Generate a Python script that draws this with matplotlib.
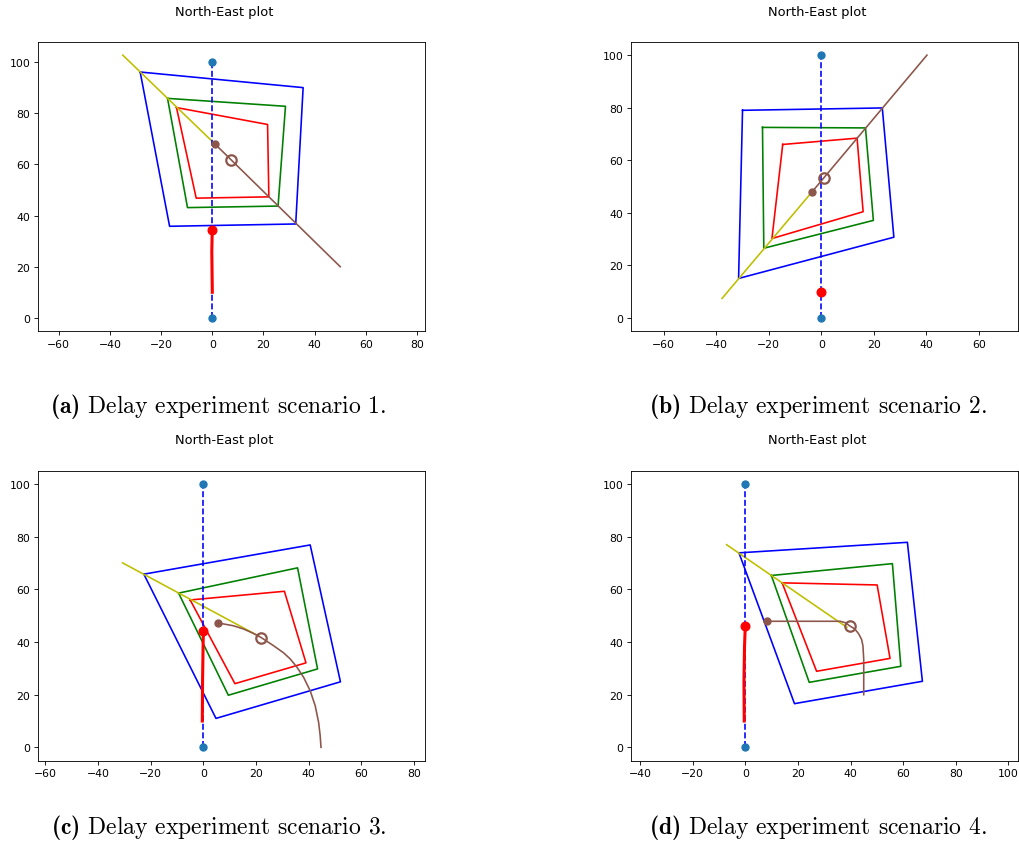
import numpy as np
import matplotlib
matplotlib.use("Agg")
import matplotlib.pyplot as plt

plt.rcParams["mathtext.fontset"] = "custom"
plt.rcParams["mathtext.rm"] = "cmr10"
plt.rcParams["mathtext.bf"] = "cmb10"

# =========================
# DATA (East = x, North = y)
# =========================
beacon_e = [0, 0]
beacon_n = [0, 100]

# scenario 1
s1_outer_e = [-28.2, 35.5, 32.6, -16.7]
s1_outer_n = [96.1, 90.0, 36.7, 35.8]
s1_mid_e = [-17.5, 28.6, 25.7, -9.7]
s1_mid_n = [85.8, 82.7, 43.7, 43.1]
s1_inner_e = [-14.0, 21.6, 22.1, -6.3]
s1_inner_n = [82.2, 75.6, 47.3, 46.8]
s1_los_e = [-35.0, 1.2]
s1_los_n = [102.7, 67.8]
s1_path_e = [1.2, 50.0]
s1_path_n = [67.8, 20.0]
s1_target = (7.3, 61.6)
s1_track_e = [0.0, -0.1, -0.2, -0.1, 0.0]
s1_track_n = [10.0, 18.0, 26.0, 31.0, 34.4]

# scenario 2
s2_outer_e = [-30.0, 23.2, 27.6, -31.5]
s2_outer_n = [79.0, 79.9, 30.7, 15.0]
s2_mid_e = [-22.4, 16.8, 19.8, -21.9]
s2_mid_n = [72.5, 72.3, 37.1, 26.5]
s2_inner_e = [-14.7, 13.6, 15.9, -18.8]
s2_inner_n = [66.0, 68.4, 40.4, 30.2]
s2_los_e = [-37.8, -3.5]
s2_los_n = [7.4, 48.0]
s2_path_e = [-3.5, 40.2]
s2_path_n = [48.0, 100.0]
s2_target = (0.9, 53.4)
s2_track_e = [0.0, 0.0]
s2_track_n = [10.0, 10.0]

# scenario 3
s3_outer_e = [-22.6, 40.6, 52.1, 4.8]
s3_outer_n = [65.8, 76.9, 24.9, 11.0]
s3_mid_e = [-9.4, 35.8, 43.4, 9.5]
s3_mid_n = [58.6, 68.2, 29.8, 19.8]
s3_inner_e = [-5.0, 30.8, 39.0, 12.0]
s3_inner_n = [56.0, 59.3, 32.1, 24.2]
s3_los_e = [-30.7, 21.0]
s3_los_n = [70.1, 42.3]
s3_path_e = [5.5, 7.6, 11.4, 15.2, 19.0, 22.0, 26.7, 30.5, 33.0, 35.6,
             38.1, 40.6, 42.5, 43.8, 44.4, 44.7]
s3_path_n = [47.1, 46.9, 46.2, 45.0, 43.3, 41.7, 38.6, 35.9, 33.6, 30.4,
             26.6, 21.5, 15.8, 9.5, 4.4, 0.0]
s3_target = (22.0, 41.7)
s3_track_e = [-0.4, -0.3, -0.1, 0.0]
s3_track_n = [10.0, 25.0, 38.0, 44.1]

# scenario 4
s4_outer_e = [-2.4, 61.6, 67.3, 18.7]
s4_outer_n = [73.9, 77.9, 25.1, 16.6]
s4_mid_e = [9.9, 55.9, 59.1, 24.3]
s4_mid_n = [65.3, 69.8, 30.8, 24.7]
s4_inner_e = [14.0, 50.1, 55.0, 27.1]
s4_inner_n = [62.5, 61.7, 33.8, 28.9]
s4_los_e = [-7.1, 38.6]
s4_los_n = [77.0, 45.6]
s4_path_e = [8.4, 20.0, 30.0, 36.1, 38.2, 39.6, 41.6, 43.1, 44.2, 44.7, 45.0, 45.0]
s4_path_n = [47.9, 47.9, 47.9, 47.9, 47.3, 46.2, 45.0, 43.1, 41.0, 38.6, 33.6, 20.0]
s4_target = (39.6, 46.2)
s4_track_e = [-0.4, -0.5, -0.3, 0.0]
s4_track_n = [10.0, 25.0, 38.0, 46.2]

captions = [
    r"$\mathbf{(a)}$ Delay experiment scenario 1.",
    r"$\mathbf{(b)}$ Delay experiment scenario 2.",
    r"$\mathbf{(c)}$ Delay experiment scenario 3.",
    r"$\mathbf{(d)}$ Delay experiment scenario 4.",
]

scenarios = [
    (s1_outer_e, s1_outer_n, s1_mid_e, s1_mid_n, s1_inner_e, s1_inner_n,
     s1_los_e, s1_los_n, s1_path_e, s1_path_n, s1_target, s1_track_e, s1_track_n),
    (s2_outer_e, s2_outer_n, s2_mid_e, s2_mid_n, s2_inner_e, s2_inner_n,
     s2_los_e, s2_los_n, s2_path_e, s2_path_n, s2_target, s2_track_e, s2_track_n),
    (s3_outer_e, s3_outer_n, s3_mid_e, s3_mid_n, s3_inner_e, s3_inner_n,
     s3_los_e, s3_los_n, s3_path_e, s3_path_n, s3_target, s3_track_e, s3_track_n),
    (s4_outer_e, s4_outer_n, s4_mid_e, s4_mid_n, s4_inner_e, s4_inner_n,
     s4_los_e, s4_los_n, s4_path_e, s4_path_n, s4_target, s4_track_e, s4_track_n),
]

# =========================
# LAYOUT (pixels: left, right, top, bottom)
# =========================
W, H = 1019, 854
boxes = [(38, 425, 43, 332), (631, 1018, 43, 332),
         (38, 425, 472, 761.5), (631, 1018, 472, 761.5)]
title_pos = [(224.5, 12.5), (817.5, 12.5), (224.5, 441), (817.5, 441)]
caption_pos = [(218, 407), (818, 407), (219, 828), (818, 828)]

fig = plt.figure(figsize=(W / 100, H / 100), dpi=100)

lw = 1.17


def closed(v):
    return list(v) + [v[0]]


for i, sc in enumerate(scenarios):
    (oe, on, me, mn, ie, inn, le, ln, pe, pn, tgt, te, tn) = sc
    L, R, T, B = boxes[i]
    ax = fig.add_axes([L / W, 1 - B / H, (R - L) / W, (B - T) / H])

    # nested boundary boxes
    ax.plot(closed(oe), closed(on), "b", lw=lw)
    ax.plot(closed(me), closed(mn), "g", lw=lw)
    ax.plot(closed(ie), closed(inn), "r", lw=lw)

    # line of sight + planned path
    ax.plot(le, ln, "y", lw=lw)
    ax.plot(pe, pn, color="C5", lw=lw)

    # reference line between beacons
    ax.plot(beacon_e, beacon_n, "b--", lw=lw)
    ax.scatter(beacon_e, beacon_n, s=25, color="C0", zorder=3)

    # vessel track
    ax.plot(te, tn, "r", lw=2.2)
    ax.plot(te[-1], tn[-1], "o", color="r", ms=6.2)
    ax.plot(pe[0], pn[0], "o", color="C5", ms=5)
    ax.plot(tgt[0], tgt[1], "o", mfc="none", mec="C5", ms=7.5, mew=1.6, zorder=4)

    ax.set_aspect("equal", adjustable="datalim")
    ax.tick_params(labelsize=7.8, length=2.7, width=0.62, pad=2.7)
    for s in ax.spines.values():
        s.set_linewidth(0.62)

    fig.text(title_pos[i][0] / W, 1 - title_pos[i][1] / H, "North-East plot",
             ha="center", va="center", fontsize=9.4)
    fig.text(caption_pos[i][0] / W, 1 - caption_pos[i][1] / H, captions[i],
             family="cmr10", fontsize=17, ha="center", va="center")

plt.savefig("out.png", dpi=100)
